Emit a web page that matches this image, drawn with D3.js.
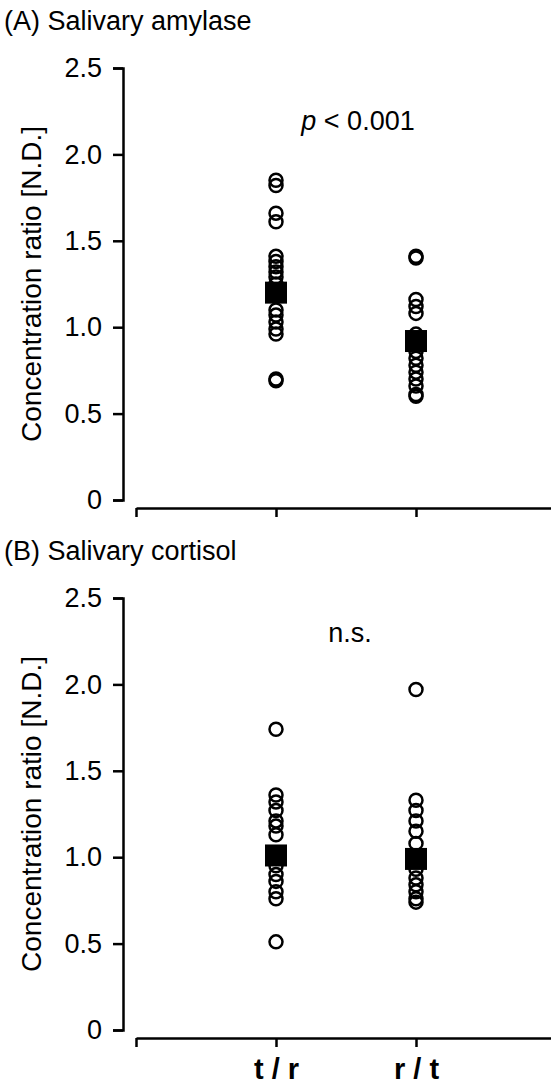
<!DOCTYPE html>
<html>
<head>
<meta charset="utf-8">
<script src="https://cdn.jsdelivr.net/npm/d3@7"></script>
<style>
  body { margin: 0; background: #fff; }
  text { font-family: "Liberation Sans", Arial, sans-serif; fill: #000; }
</style>
</head>
<body>
<svg id="svg1" width="551" height="1082"></svg>
<script>
// group labels and positions on the x scale
var groups = ["t / r", "r / t"]
var groupPos = [1, 2]
var yTicks = [0, 0.5, 1.0, 1.5, 2.0, 2.5]

// (A) amylase ratios
var amylaseTR = [1.85, 1.82, 1.66, 1.61, 1.41, 1.38, 1.35, 1.32, 1.29, 1.25, 1.10, 1.07, 1.03, 0.99, 0.96, 0.70, 0.69]
var amylaseRT = [1.41, 1.40, 1.16, 1.12, 1.08, 0.96, 0.90, 0.86, 0.82, 0.78, 0.74, 0.70, 0.66, 0.61, 0.60]
var amylaseMean = [1.20, 0.92]

// (B) cortisol ratios
var cortisolTR = [1.74, 1.36, 1.32, 1.27, 1.21, 1.18, 1.13, 0.95, 0.90, 0.86, 0.80, 0.76, 0.51]
var cortisolRT = [1.97, 1.33, 1.27, 1.21, 1.15, 1.08, 0.93, 0.88, 0.84, 0.80, 0.76, 0.74]
var cortisolMean = [1.01, 0.99]

var panels = [
  {title: "(A) Salivary amylase", note: "p", noteRest: " < 0.001", noteX: 358, noteY: 130, sets: [amylaseTR, amylaseRT], means: amylaseMean, top: 0, labels: false},
  {title: "(B) Salivary cortisol", note: "", noteRest: "n.s.", noteX: 350, noteY: 112, sets: [cortisolTR, cortisolRT], means: cortisolMean, top: 530, labels: true}
]

var svg = d3.select("#svg1")

var x = d3.scaleLinear().domain([0, 3]).range([136, 556])

function drawPanel(p){
  var g = svg.append("g").attr("transform", "translate(0," + p.top + ")")
  var y = d3.scaleLinear().domain([0, 2.5]).range([500, 68])

  g.append("text").attr("x", 4).attr("y", 30)
    .style("font-size", "27px").text(p.title)

  var yAxis = g.append("g").attr("transform", "translate(123,0)")
    .call(d3.axisLeft(y).tickValues(yTicks).tickSize(10).tickSizeOuter(10).tickPadding(11)
      .tickFormat(function(d){ return d === 0 ? "0" : d3.format(".1f")(d) }))
  yAxis.selectAll("path,line").attr("stroke", "#000").attr("stroke-width", 2.5)
  yAxis.selectAll("text").style("font-size", "27px").attr("fill", "#000")

  var xAxis = g.append("g").attr("transform", "translate(0,508)")
    .call(d3.axisBottom(x).tickValues([0].concat(groupPos)).tickSize(9).tickSizeOuter(0).tickPadding(11)
      .tickFormat(function(d){ return p.labels && d > 0 ? groups[d - 1] : "" }))
  xAxis.selectAll("path,line").attr("stroke", "#000").attr("stroke-width", 2.5)
  xAxis.selectAll("text").style("font-size", "29px").style("font-weight", "bold").attr("fill", "#000")

  g.append("text")
    .attr("transform", "translate(41," + y(1.25) + ") rotate(-90)")
    .attr("text-anchor", "middle")
    .style("font-size", "28px")
    .text("Concentration ratio [N.D.]")

  var note = g.append("text").attr("x", p.noteX).attr("y", p.noteY)
    .attr("text-anchor", "middle").style("font-size", "27px")
  if(p.note){
    note.append("tspan").style("font-style", "italic").text(p.note)
  }
  note.append("tspan").text(p.noteRest)

  for(var i=0;i<p.sets.length;i++){
    g.append("g").selectAll("circle")
      .data(p.sets[i])
      .enter().append("circle")
        .attr("cx", x(groupPos[i]))
        .attr("cy", function(d){ return y(d) })
        .attr("r", 6.5)
        .attr("fill", "none")
        .attr("stroke", "#000")
        .attr("stroke-width", 2.5)
  }

  g.selectAll("rect.mean")
    .data(p.means)
    .enter().append("rect")
      .attr("class", "mean")
      .attr("x", function(d, i){ return x(groupPos[i]) - 11 })
      .attr("y", function(d){ return y(d) - 11 })
      .attr("width", 22)
      .attr("height", 22)
      .attr("fill", "#000")
}

panels.forEach(drawPanel)
</script>
</body>
</html>
